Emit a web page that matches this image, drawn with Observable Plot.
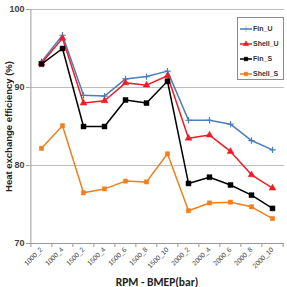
<!DOCTYPE html>
<html>
<head>
<meta charset="utf-8">
<script src="https://cdn.jsdelivr.net/npm/d3@7"></script>
<script src="https://cdn.jsdelivr.net/npm/@observablehq/plot@0.6"></script>
<style>
  html, body { margin: 0; padding: 0; background: #fff; }
  #chart { position: relative; width: 287px; height: 287px; overflow: hidden; font-family: "Liberation Sans", Arial, sans-serif; }
  #legend { position: absolute; left: 237px; top: 17px; width: 47px; height: 63px; padding: 3px 0 0 2px; box-sizing: border-box;
            border: 1px solid #8c8c8c; background: #fff; font-size: 7px; font-weight: bold; color: #333; }
  #legend .row { display: flex; align-items: center; height: 15px; white-space: nowrap; }
  #legend svg { margin-right: 1px; }
</style>
</head>
<body>
<div id="chart"></div>
<script>
// Operating points: engine speed (RPM) _ BMEP (bar)
const categories = ["1000_2", "1000_4", "1500_2", "1500_4", "1500_6", "1500_8", "1500_10",
                    "2000_2", "2000_4", "2000_6", "2000_8", "2000_10"];

// Heat exchange efficiency (%) per configuration
const finU   = [93.3, 96.7, 89.0, 88.9, 91.1, 91.4, 92.1, 85.8, 85.8, 85.3, 83.2, 82.0];
const shellU = [93.1, 96.3, 88.0, 88.3, 90.6, 90.3, 91.5, 83.5, 83.9, 81.8, 78.8, 77.1];
const finS   = [93.0, 95.0, 85.0, 85.0, 88.4, 88.0, 90.8, 77.7, 78.5, 77.5, 76.2, 74.5];
const shellS = [82.2, 85.1, 76.5, 77.0, 78.0, 77.9, 81.5, 74.2, 75.2, 75.3, 74.7, 73.2];

const seriesNames = ["Fin_U", "Shell_U", "Fin_S", "Shell_S"];
const seriesValues = [finU, shellU, finS, shellS];
const yTicks = [70, 80, 90, 100];

const styles = {
  Fin_U:   {color: "#4a7ebb", symbol: "plus",     r: 2.2},
  Shell_U: {color: "#ee1c25", symbol: "triangle", r: 2.5},
  Fin_S:   {color: "#000000", symbol: "square",   r: 2.8},
  Shell_S: {color: "#f07f1e", symbol: "square",   r: 2.4}
};

const rows = seriesNames.flatMap((name, i) =>
  categories.map((c, j) => ({series: name, cat: c, value: seriesValues[i][j]})));

const W = 287, H = 287, mL = 29, mR = 3, mT = 9, mB = 44;
const step = (W - mL - mR) / categories.length;

const marks = [
  Plot.ruleY(yTicks.filter(t => t > 70), {y: d => d, stroke: "#bdbdbd", strokeWidth: 1}),
  // vertical axis line at the left edge of the first category band
  Plot.ruleX([categories[0]], {x: d => d, dx: -step / 2, stroke: "#9a9a9a"}),
  Plot.ruleY([70], {stroke: "#9a9a9a"}),
  // short tick marks between categories on the bottom axis
  Plot.axisX({tickSize: 4, dx: -step / 2, tickFormat: () => "", stroke: "#9a9a9a", label: null}),
  Plot.axisX([categories[categories.length - 1]], {tickSize: 4, dx: step / 2, tickFormat: () => "", stroke: "#9a9a9a", label: null}),
  Plot.axisY({ticks: yTicks, tickSize: 3, tickPadding: 2, fontSize: 9, fontWeight: "bold", fill: "#404040", stroke: "#9a9a9a", label: null}),
  Plot.axisX({tickSize: 0, tickRotate: -45, fontSize: 6.8, fill: "#444", label: null, tickPadding: 5}),
];

for (const name of seriesNames) {
  const s = styles[name];
  const data = rows.filter(d => d.series === name);
  marks.push(Plot.line(data, {x: "cat", y: "value", stroke: s.color, strokeWidth: 1.5}));
  marks.push(Plot.dot(data, {x: "cat", y: "value", symbol: () => s.symbol, r: s.r,
    fill: s.symbol === "plus" ? "none" : s.color, stroke: s.color, strokeWidth: s.symbol === "plus" ? 1.2 : 0.5}));
}

marks.push(Plot.text(["Heat exchange efficiency (%)"], {frameAnchor: "left", textAnchor: "middle", dx: -21, rotate: -90,
  fontSize: 9.5, fontWeight: "bold", fill: "#222"}));
marks.push(Plot.text(["RPM - BMEP(bar)"], {frameAnchor: "bottom", textAnchor: "middle", dy: 42, fontSize: 11.5,
  fontWeight: "bold", fill: "#222", fontFamily: "Carlito, 'Liberation Sans', Arial"}));

const chart = Plot.plot({
  width: W, height: H,
  marginLeft: mL, marginRight: mR, marginTop: mT, marginBottom: mB,
  style: {fontFamily: "'Liberation Sans', Arial, sans-serif", background: "#fff"},
  x: {type: "point", domain: categories, padding: 0.5, axis: null},
  y: {domain: [70, 100], axis: null},
  symbol: {type: "identity"},
  marks
});
chart.style.overflow = "hidden";
const host = document.getElementById("chart");
host.appendChild(chart);

// legend box inside the upper right corner of the plot
const legend = document.createElement("div");
legend.id = "legend";
for (const name of seriesNames) {
  const s = styles[name];
  const row = document.createElement("div");
  row.className = "row";
  const sw = d3.create("svg").attr("width", 12).attr("height", 8);
  sw.append("line").attr("x1", 0).attr("x2", 12).attr("y1", 4).attr("y2", 4)
    .attr("stroke", s.color).attr("stroke-width", 1.5);
  sw.append("path").attr("transform", "translate(6,4)")
    .attr("d", d3.symbol(s.symbol === "plus" ? d3.symbolPlus : s.symbol === "triangle" ? d3.symbolTriangle : d3.symbolSquare, 14)())
    .attr("fill", s.color).attr("stroke", s.color).attr("stroke-width", 0.4);
  row.appendChild(sw.node());
  const t = document.createElement("span");
  t.textContent = name;
  row.appendChild(t);
  legend.appendChild(row);
}
host.appendChild(legend);
</script>
</body>
</html>
